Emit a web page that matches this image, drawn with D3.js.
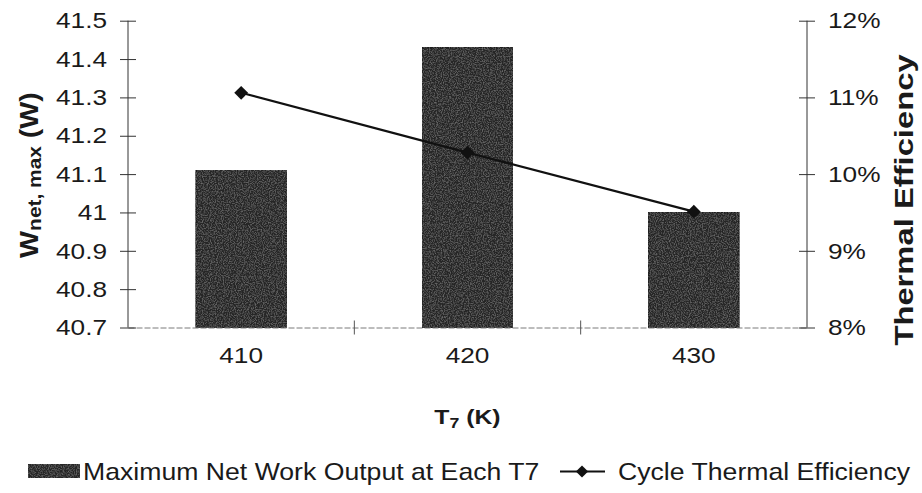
<!DOCTYPE html>
<html>
<head>
<meta charset="utf-8">
<script src="https://cdn.jsdelivr.net/npm/d3@7"></script>
<style>
  html, body { margin: 0; padding: 0; background: #fff; }
  svg { display: block; }
  text { font-family: "Liberation Sans", Arial, Helvetica, sans-serif; fill: #1a1a1a; }
</style>
</head>
<body>
<svg id="chart" width="922" height="493"></svg>
<script>
// Chart data
const categories = ["410", "420", "430"];
const netWorkMax = [41.11, 41.43, 41.00];          // W
const thermalEff = [0.1106, 0.1028, 0.0951];       // fraction
const leftTicks = [40.7, 40.8, 40.9, 41, 41.1, 41.2, 41.3, 41.4, 41.5];
const rightTicks = [0.08, 0.09, 0.10, 0.11, 0.12];
const barLegend = "Maximum Net Work Output at Each T7";
const lineLegend = "Cycle Thermal Efficiency";

const plot = { left: 128, right: 807, top: 20.7, bottom: 327.5 };
const svg = d3.select("#chart");

const x = d3.scaleBand().domain(categories).range([plot.left, plot.right]).paddingInner(0).paddingOuter(0);
const yL = d3.scaleLinear().domain([40.7, 41.5]).range([plot.bottom, plot.top]);
const yR = d3.scaleLinear().domain([0.08, 0.12]).range([plot.bottom, plot.top]);
const barW = x.bandwidth() / 2.5;

// grain for the bar fill
const defs = svg.append("defs");
const f = defs.append("filter").attr("id", "grain").attr("x", 0).attr("y", 0).attr("width", 1).attr("height", 1);
f.append("feTurbulence").attr("type", "fractalNoise").attr("baseFrequency", 0.85).attr("numOctaves", 2).attr("seed", 3).attr("result", "n");
f.append("feColorMatrix").attr("in", "n").attr("type", "matrix")
  .attr("values", "0 0 0 0 0.5  0 0 0 0 0.5  0 0 0 0 0.5  0.6 0 0 0 -0.25").attr("result", "nm");
f.append("feComposite").attr("in", "nm").attr("in2", "SourceGraphic").attr("operator", "in").attr("result", "nc");
f.append("feMerge").selectAll("feMergeNode").data(["SourceGraphic", "nc"]).join("feMergeNode").attr("in", d => d);

// text with the typeface's wide set width
function wtext(g, str, tx, ty, anchor, size, sx, weight) {
  return g.append("text")
    .attr("transform", `translate(${tx},${ty}) scale(${sx},1)`)
    .attr("text-anchor", anchor)
    .style("font-size", size + "px")
    .style("font-weight", weight || "normal")
    .text(str);
}
const TICK_SIZE = 21.5, TICK_SX = 1.22;

// bars
svg.append("g").selectAll("rect").data(categories).join("rect")
  .attr("x", (d) => x(d) + x.bandwidth() / 2 - barW / 2)
  .attr("y", (d, i) => yL(netWorkMax[i]))
  .attr("width", barW)
  .attr("height", (d, i) => yL(40.7) - yL(netWorkMax[i]))
  .attr("fill", "#262626")
  .attr("stroke", "#151515")
  .attr("stroke-width", 1)
  .attr("filter", "url(#grain)");

// category axis
const xAxis = svg.append("g").attr("transform", `translate(0,${plot.bottom})`)
  .call(d3.axisBottom(x).tickSize(0).tickFormat(""));
xAxis.select(".domain").attr("stroke", "#7a7a7a").attr("stroke-dasharray", "6 2");
xAxis.selectAll(".tick").remove();
const bounds = categories.slice(1).map(c => x(c));
xAxis.selectAll("line.sep").data(bounds).join("line").attr("class", "sep")
  .attr("x1", d => d).attr("x2", d => d).attr("y1", -7).attr("y2", 7)
  .attr("stroke", "#555").attr("stroke-width", 1);
categories.forEach(c => wtext(svg, c, x(c) + x.bandwidth() / 2, 363, "middle", TICK_SIZE, TICK_SX));

// left value axis
const lAxis = svg.append("g").attr("transform", `translate(${plot.left},0)`)
  .call(d3.axisLeft(yL).tickValues(leftTicks).tickSize(8).tickFormat(""));
lAxis.select(".domain").attr("stroke", "#333").attr("d", `M0,${plot.top}V${plot.bottom}`);
lAxis.selectAll(".tick line").attr("x1", -8).attr("x2", 8).attr("stroke", "#333");
leftTicks.forEach(v => wtext(svg, d3.format("")(+v.toFixed(1)), 107, yL(v) + 7.7, "end", TICK_SIZE, TICK_SX));

// right value axis
const rAxis = svg.append("g").attr("transform", `translate(${plot.right},0)`)
  .call(d3.axisRight(yR).tickValues(rightTicks).tickSize(8).tickFormat(""));
rAxis.select(".domain").attr("stroke", "#333").attr("d", `M0,${plot.top}V${plot.bottom}`);
rAxis.selectAll(".tick line").attr("x1", -8).attr("x2", 8).attr("stroke", "#333");
rightTicks.forEach(v => wtext(svg, d3.format(".0%")(v), 828, yR(v) + 7.7, "start", TICK_SIZE, TICK_SX));

// efficiency line
const cx = c => x(c) + x.bandwidth() / 2;
const line = d3.line().x((d, i) => cx(categories[i])).y(d => yR(d));
svg.append("path").datum(thermalEff).attr("d", line)
  .attr("fill", "none").attr("stroke", "#111").attr("stroke-width", 2.2);
svg.append("g").selectAll("path").data(thermalEff).join("path")
  .attr("transform", (d, i) => `translate(${cx(categories[i])},${yR(d)}) rotate(45)`)
  .attr("d", d3.symbol().type(d3.symbolSquare).size(95))
  .attr("fill", "#111");

// axis titles
const xt = svg.append("text")
  .attr("transform", `translate(${(plot.left + plot.right) / 2},424) scale(1.18,1)`)
  .attr("text-anchor", "middle").style("font-size", "21px").style("font-weight", "bold");
xt.append("tspan").text("T");
xt.append("tspan").attr("dy", 4).style("font-size", "15px").text("7");
xt.append("tspan").attr("dy", -4).text(" (K)");

const lt = svg.append("text")
  .attr("transform", `translate(38,175) rotate(-90) scale(1.1,1)`)
  .attr("text-anchor", "middle").style("font-size", "26px").style("font-weight", "bold");
lt.append("tspan").text("W");
lt.append("tspan").attr("dy", 3).style("font-size", "19px").text("net, max");
lt.append("tspan").attr("dy", -3).text(" (W)");

wtext(svg.append("g").attr("transform", `translate(913,200) rotate(-90)`),
  "Thermal Efficiency", 0, 0, "middle", 26, 1.26, "bold");

// legend
const lg = svg.append("g");
lg.append("rect").attr("x", 28).attr("y", 464).attr("width", 52).attr("height", 14)
  .attr("fill", "#262626").attr("filter", "url(#grain)");
wtext(lg, barLegend, 83, 480, "start", 24, 1.11);
lg.append("line").attr("x1", 560).attr("x2", 605).attr("y1", 471.5).attr("y2", 471.5)
  .attr("stroke", "#111").attr("stroke-width", 2);
lg.append("path").attr("transform", "translate(582,471.5) rotate(45)")
  .attr("d", d3.symbol().type(d3.symbolSquare).size(75)).attr("fill", "#111");
wtext(lg, lineLegend, 618, 480, "start", 24, 1.11);
</script>
</body>
</html>
